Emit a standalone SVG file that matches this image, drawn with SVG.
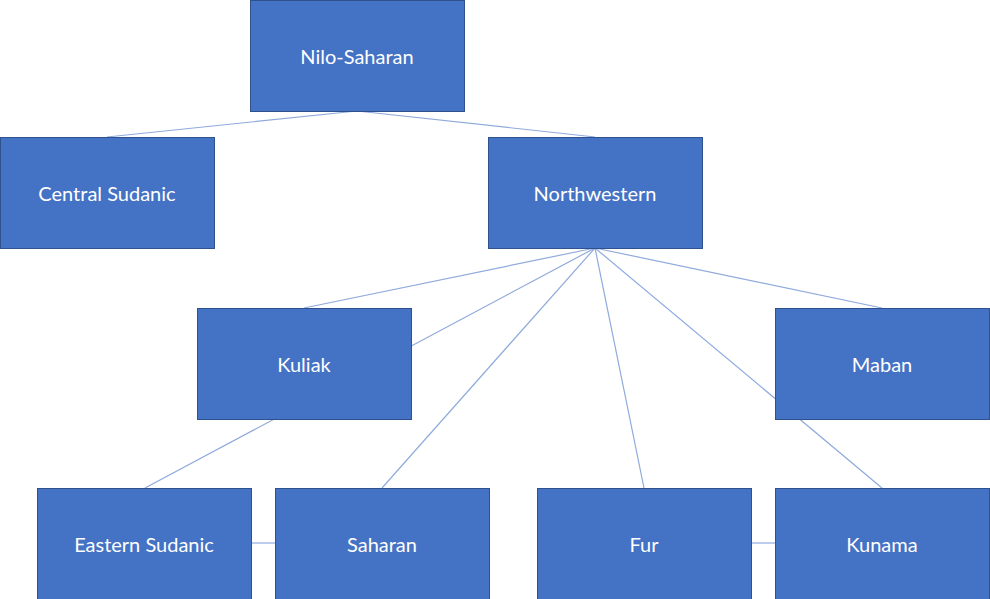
<svg xmlns="http://www.w3.org/2000/svg" width="990" height="599" viewBox="0 0 990 599">
<style>
.box{fill:#4472C4;stroke:#2F528F;stroke-width:1}
.lbl{fill:#FFFFFF;font-family:Lato,"Liberation Sans",sans-serif;font-size:20px;text-anchor:middle;dominant-baseline:central}
.conn line{stroke:#8FAADC;stroke-width:1.2;fill:none}
</style>
<rect width="990" height="599" fill="#FFFFFF"/>
<g id="connectors" class="conn">
<line x1="357" y1="111" x2="107" y2="137"/>
<line x1="357" y1="111" x2="595" y2="137"/>
<line x1="595" y1="248" x2="304" y2="308"/>
<line x1="595" y1="248" x2="145" y2="488"/>
<line x1="595" y1="248" x2="382" y2="488"/>
<line x1="595" y1="248" x2="644" y2="488"/>
<line x1="595" y1="248" x2="882" y2="488"/>
<line x1="595" y1="248" x2="882" y2="308"/>
<line x1="251" y1="543" x2="275" y2="543"/>
<line x1="751" y1="543" x2="775" y2="543"/>
</g>
<g id="nilo-saharan"><rect class="box" x="250.5" y="0.5" width="214" height="111"/><text class="lbl" x="357" y="56">Nilo-Saharan</text></g>
<g id="central-sudanic"><rect class="box" x="0.5" y="137.5" width="214" height="111"/><text class="lbl" x="107" y="193">Central Sudanic</text></g>
<g id="northwestern"><rect class="box" x="488.5" y="137.5" width="214" height="111"/><text class="lbl" x="595" y="193">Northwestern</text></g>
<g id="kuliak"><rect class="box" x="197.5" y="308.5" width="214" height="111"/><text class="lbl" x="304" y="364">Kuliak</text></g>
<g id="maban"><rect class="box" x="775.5" y="308.5" width="214" height="111"/><text class="lbl" x="882" y="364">Maban</text></g>
<g id="eastern-sudanic"><rect class="box" x="37.5" y="488.5" width="214" height="111"/><text class="lbl" x="144" y="544">Eastern Sudanic</text></g>
<g id="saharan"><rect class="box" x="275.5" y="488.5" width="214" height="111"/><text class="lbl" x="382" y="544">Saharan</text></g>
<g id="fur"><rect class="box" x="537.5" y="488.5" width="214" height="111"/><text class="lbl" x="644" y="544">Fur</text></g>
<g id="kunama"><rect class="box" x="775.5" y="488.5" width="214" height="111"/><text class="lbl" x="882" y="544">Kunama</text></g>
</svg>
